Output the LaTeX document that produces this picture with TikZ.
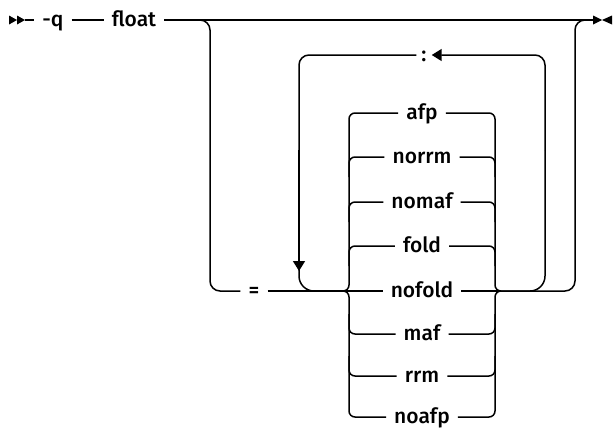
\documentclass[tikz,border=0pt]{standalone}
\usepackage{fontspec}
\setmainfont{Open Sans}
\newfontfamily\lblfont{Fira Sans}[UprightFont=* Medium]
\usetikzlibrary{arrows.meta}
\begin{document}
\begin{tikzpicture}[x=1pt,y=-1pt,
  rail/.style={line width=1.5pt, line join=round},
  lbl/.style={font=\lblfont\fontsize{21}{21}\selectfont, inner xsep=8pt, inner ysep=0pt,
              text height=15pt, text depth=2.5pt, anchor=center},
  tip/.style={-{Triangle[length=10pt,width=12pt]}}]
\useasboundingbox (0,0) rectangle (613,429);

% labels
\node[lbl] (q) at (53,20) {-q};
\node[lbl] (float) at (134,20) {float};
\node[lbl] (eq) at (254,291) {=};
\node[lbl, inner xsep=5pt] (colon) at (424,55) {:};
\node[lbl] (afp)    at (422,113) {afp};
\node[lbl] (norrm)  at (422,157) {norrm};
\node[lbl] (nomaf)  at (422,202) {nomaf};
\node[lbl] (fold)   at (422,246) {fold};
\node[lbl] (nofold) at (422,291) {nofold};
\node[lbl] (maf)    at (422,334) {maf};
\node[lbl] (rrm)    at (422,376) {rrm};
\node[lbl] (noafp)  at (422,417) {noafp};

\coordinate (s) at (25,20);
\coordinate (e) at (593,20);
\coordinate (cL) at (343,291);
\coordinate (cR) at (501,291);

% start / end marks
\fill (9,15.5) -- (17,20) -- (9,24.5) -- cycle;
\fill (17,15.5) -- (25,20) -- (17,24.5) -- cycle;
\fill (593,15.5) -- (602,20) -- (593,24.5) -- cycle;
\fill (612,15.5) -- (602,20) -- (612,24.5) -- cycle;

% main line
\draw[rail] (s) -- (q.west);
\draw[rail] (q.east) -- (float.west);
\draw[rail] (float.east) -- (e);

% branch down to "="
\draw[rail, rounded corners=10pt] (190,20) -- (210,20) -- (210,291) -- (eq.west);
\draw[rail] (eq.east) -- (cL);

% outer right return
\draw[rail, rounded corners=10pt] (cR) -- (575,291) -- (575,20) -- (e);

% repeat loop
\draw[rail, rounded corners=15pt] (cR) -- (545,291) -- (545,150);
\draw[rail, rounded corners=10pt, tip] (545,150) -- (545,55) -- (colon.east);
\draw[rail, rounded corners=10pt] (colon.west) -- (299,55) -- (299,150);
\draw[rail, tip] (299,150) -- (299,271);
\draw[rail, rounded corners=15pt] (299,265) -- (299,291) -- (cL);

% choice stack, left side
\draw[rail, rounded corners=6pt] (cL) -- (349,291) -- (349,113) -- (afp.west);
\draw[rail, rounded corners=6pt] (cL) -- (349,291) -- (349,417) -- (noafp.west);
\draw[rail, rounded corners=6pt] (349,177) -- (349,157) -- (norrm.west);
\draw[rail, rounded corners=6pt] (349,222) -- (349,202) -- (nomaf.west);
\draw[rail, rounded corners=6pt] (349,266) -- (349,246) -- (fold.west);
\draw[rail, rounded corners=6pt] (349,314) -- (349,334) -- (maf.west);
\draw[rail, rounded corners=6pt] (349,356) -- (349,376) -- (rrm.west);
\draw[rail] (cL) -- (nofold.west);

% choice stack, right side
\draw[rail, rounded corners=6pt] (afp.east) -- (495,113) -- (495,291) -- (cR);
\draw[rail, rounded corners=6pt] (noafp.east) -- (495,417) -- (495,291) -- (cR);
\draw[rail, rounded corners=6pt] (norrm.east) -- (495,157) -- (495,177);
\draw[rail, rounded corners=6pt] (nomaf.east) -- (495,202) -- (495,222);
\draw[rail, rounded corners=6pt] (fold.east) -- (495,246) -- (495,266);
\draw[rail, rounded corners=6pt] (maf.east) -- (495,334) -- (495,314);
\draw[rail, rounded corners=6pt] (rrm.east) -- (495,376) -- (495,356);
\draw[rail] (nofold.east) -- (cR);
\end{tikzpicture}
\end{document}
